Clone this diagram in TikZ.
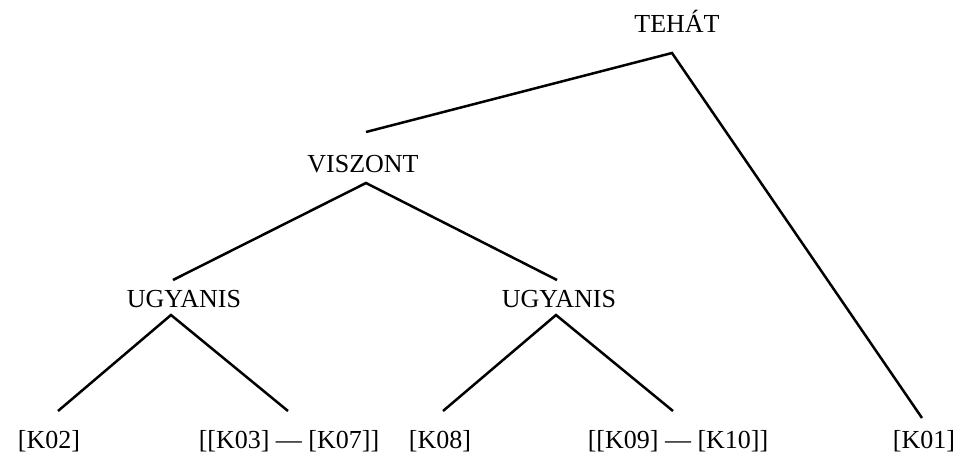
\documentclass[tikz,border=0pt]{standalone}
\usepackage{fontspec}
\setmainfont{Liberation Serif}
\usetikzlibrary{positioning}

\begin{document}
\begin{tikzpicture}[x=1pt, y=-1pt, line width=2.5pt,
    lab/.style={anchor=base, inner sep=0pt, font=\fontsize{26}{31}\selectfont}]
    \useasboundingbox (0,0) rectangle (962,452);
    % labels
    \node[lab] (tehat) at (677,33) {TEHÁT};
    \node[lab] (viszont) at (363,172) {VISZONT};
    \node[lab] (ugyA) at (184,307) {UGYANIS};
    \node[lab] (ugyB) at (559,307) {UGYANIS};
    \node[lab] (k02) at (49,448) {[K02]};
    \node[lab] (k03) at (289,448) {[[K03] — [K07]]};
    \node[lab] (k08) at (440,448) {[K08]};
    \node[lab] (k09) at (678,448) {[[K09] — [K10]]};
    \node[lab] (k01) at (924,448) {[K01]};
    % joints
    \coordinate (tehat-d) at (672,53);
    \coordinate (viszont-u) at (366,132);
    \coordinate (viszont-d) at (366,183);
    \coordinate (ugyA-u) at (173,280);
    \coordinate (ugyA-d) at (171,315);
    \coordinate (ugyB-u) at (557,280);
    \coordinate (ugyB-d) at (556,315);
    \coordinate (k02-u) at (58,411);
    \coordinate (k03-u) at (288,411);
    \coordinate (k08-u) at (443,411);
    \coordinate (k09-u) at (673,411);
    \coordinate (k01-u) at (922,418);
    % branches
    \draw (viszont-u) -- (tehat-d) -- (k01-u);
    \draw (ugyA-u) -- (viszont-d) -- (ugyB-u);
    \draw (k02-u) -- (ugyA-d) -- (k03-u);
    \draw (k08-u) -- (ugyB-d) -- (k09-u);
\end{tikzpicture}
\end{document}
